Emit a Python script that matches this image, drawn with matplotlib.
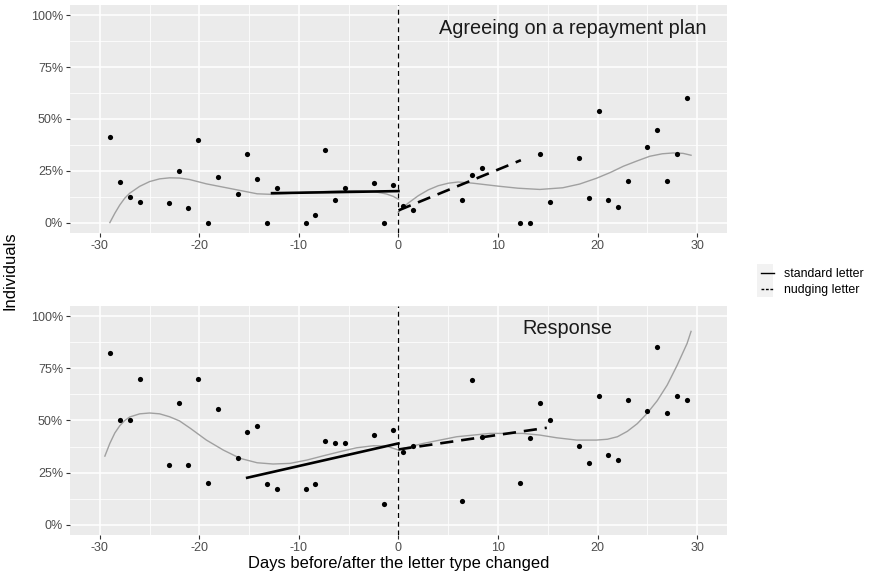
#!/usr/bin/env python3
"""
Regression discontinuity plot: share of individuals before/after the letter type changed.
Two panels (agreeing on a repayment plan / response), ggplot2-like grey theme.
"""

import matplotlib
matplotlib.use("Agg")
import matplotlib.pyplot as plt
from matplotlib.lines import Line2D
from matplotlib.patches import Rectangle
from matplotlib.ticker import PercentFormatter, MultipleLocator

plt.rcParams['font.family'] = ['Liberation Sans', 'DejaVu Sans']
plt.rcParams['axes.unicode_minus'] = False  # ggplot prints "-30", not "−30"

# ---- data: days relative to the change (same days in both panels) ----
days = [-29, -28, -27, -26, -23.05, -22.05, -21.1, -20.1, -19.1, -18.1,
        -16.15, -15.2, -14.2, -13.2, -12.25, -9.3, -8.35, -7.35, -6.35, -5.35,
        -2.45, -1.5, -0.5, 0.45, 1.45, 6.35, 7.35, 8.35, 12.25, 13.25,
        14.2, 15.2, 18.15, 19.1, 20.1, 21.1, 22.05, 23.05, 25.0, 26.0,
        27.0, 27.95, 28.95]

# agreeing on a repayment plan (share)
agree = [0.411, 0.198, 0.123, 0.099, 0.094, 0.248, 0.070, 0.398, 0.0, 0.221,
         0.136, 0.333, 0.210, 0.0, 0.166, 0.0, 0.038, 0.349, 0.110, 0.166,
         0.189, 0.0, 0.181, 0.082, 0.061, 0.110, 0.230, 0.263, 0.0, 0.0,
         0.333, 0.099, 0.312, 0.117, 0.537, 0.110, 0.077, 0.200, 0.364, 0.449,
         0.200, 0.333, 0.599]

# response (share)
response = [0.823, 0.502, 0.502, 0.701, 0.287, 0.584, 0.287, 0.701, 0.201, 0.557,
            0.318, 0.446, 0.474, 0.193, 0.169, 0.169, 0.193, 0.401, 0.390, 0.390,
            0.429, 0.101, 0.454, 0.348, 0.377, 0.112, 0.693, 0.422, 0.201, 0.417,
            0.584, 0.502, 0.377, 0.295, 0.616, 0.334, 0.308, 0.600, 0.547, 0.851,
            0.535, 0.620, 0.600]

# loess curves (grey), left and right of the cut-off
agree_smooth_left_x = [-29, -28.5, -28, -27.5, -27, -26, -25, -24, -23, -22,
                       -21, -19.3, -17.6, -15.9, -14.2, -12.6, -10.9, -9.2, -7.5, -5.9,
                       -4.2, -2.5, -1.2, -0.5, 0]
agree_smooth_left_y = [0.0, 0.045, 0.085, 0.118, 0.142, 0.175, 0.198, 0.211, 0.216, 0.215,
                       0.208, 0.187, 0.171, 0.155, 0.139, 0.136, 0.141, 0.147, 0.150, 0.154,
                       0.154, 0.150, 0.138, 0.126, 0.112]
agree_smooth_right_x = [0, 0.5, 1, 2, 3, 4, 5, 6, 7.5, 10,
                        12, 14.2, 16.5, 18.2, 19.9, 21.3, 22.6, 24, 25.25, 26.5,
                        27.6, 28.6, 29.4]
agree_smooth_right_y = [0.050, 0.075, 0.095, 0.130, 0.158, 0.178, 0.190, 0.196, 0.190, 0.176,
                        0.166, 0.160, 0.168, 0.186, 0.214, 0.242, 0.272, 0.298, 0.320, 0.332,
                        0.336, 0.334, 0.325]

resp_smooth_left_x = [-29.5, -29, -28.5, -28, -27.5, -27, -26, -25, -24, -23,
                      -22, -20.9, -19.3, -17.6, -15.9, -14.2, -12.6, -10.9, -9.2, -7.5,
                      -5.9, -4.2, -2.5, -1.2, 0]
resp_smooth_left_y = [0.329, 0.390, 0.440, 0.475, 0.500, 0.517, 0.532, 0.536, 0.532, 0.518,
                      0.498, 0.462, 0.406, 0.358, 0.318, 0.297, 0.291, 0.294, 0.310, 0.331,
                      0.350, 0.369, 0.379, 0.377, 0.358]
resp_smooth_right_x = [0, 2.5, 5.85, 9.2, 12.5, 14.2, 15.9, 17.9, 19.9, 21,
                       22, 23, 24, 25, 26, 27, 28, 29, 29.4]
resp_smooth_right_y = [0.360, 0.390, 0.422, 0.438, 0.438, 0.430, 0.417, 0.406, 0.406, 0.410,
                       0.422, 0.448, 0.485, 0.535, 0.595, 0.670, 0.765, 0.870, 0.928]

# linear fits (black): standard letter (solid) / nudging letter (dashed)
agree_std_x = [-12.7, 0]
agree_std_y = [0.142, 0.152]
agree_nudge_x = [0, 12.3]
agree_nudge_y = [0.059, 0.301]

resp_std_x = [-15.2, 0]
resp_std_y = [0.225, 0.390]
resp_nudge_x = [0, 14.9]
resp_nudge_y = [0.361, 0.465]

panel_titles = ["Agreeing on a repayment plan", "Response"]
legend_labels = ["standard letter", "nudging letter"]

PANEL_BG = '#EBEBEB'
TICK_COL = '#4D4D4D'


def style_axes(ax):
    """ggplot2 theme_gray look"""
    ax.set_facecolor(PANEL_BG)
    for s in ax.spines.values():
        s.set_visible(False)
    ax.set_xlim(-33, 33)
    ax.set_ylim(-0.05, 1.05)
    ax.xaxis.set_major_locator(MultipleLocator(10))
    ax.xaxis.set_minor_locator(MultipleLocator(5))
    ax.yaxis.set_major_locator(MultipleLocator(0.25))
    ax.yaxis.set_minor_locator(MultipleLocator(0.125))
    ax.yaxis.set_major_formatter(PercentFormatter(1.0, decimals=0))
    ax.grid(True, which='major', color='white', linewidth=1.1)
    ax.grid(True, which='minor', color='white', linewidth=0.55)
    ax.set_axisbelow(True)
    ax.tick_params(which='major', length=3, width=0.8, color='#333333',
                   labelsize=9, labelcolor=TICK_COL, pad=2)
    ax.tick_params(which='minor', length=0)


def draw_panel(ax, y, sl_x, sl_y, sr_x, sr_y, std_x, std_y, nd_x, nd_y, title, tx, ty):
    style_axes(ax)
    ax.axvline(0, color='black', linewidth=0.9, linestyle=(0, (4, 3)), zorder=2)
    ax.plot(sl_x, sl_y, color='#A0A0A0', linewidth=1.0, zorder=3)
    ax.plot(sr_x, sr_y, color='#A0A0A0', linewidth=1.0, zorder=3)
    ax.plot(std_x, std_y, color='black', linewidth=1.9, zorder=4)
    ax.plot(nd_x, nd_y, color='black', linewidth=1.9, linestyle=(0, (5, 3)), zorder=4)
    ax.scatter(days, y, s=14, color='black', zorder=5, linewidths=0)
    ax.text(tx, ty, title, fontsize=14.3, color='#1a1a1a', ha='center', va='center')


fig = plt.figure(figsize=(8.7, 5.73), dpi=100)
ax_top = fig.add_axes([0.0805, 0.5934, 0.755, 0.398])
ax_bot = fig.add_axes([0.0805, 0.0663, 0.755, 0.3997])

draw_panel(ax_top, agree, agree_smooth_left_x, agree_smooth_left_y,
           agree_smooth_right_x, agree_smooth_right_y,
           agree_std_x, agree_std_y, agree_nudge_x, agree_nudge_y,
           panel_titles[0], 17.5, 0.937)
draw_panel(ax_bot, response, resp_smooth_left_x, resp_smooth_left_y,
           resp_smooth_right_x, resp_smooth_right_y,
           resp_std_x, resp_std_y, resp_nudge_x, resp_nudge_y,
           panel_titles[1], 17.0, 0.94)

# axis titles
fig.text(0.4585, 0.003, "Days before/after the letter type changed",
         fontsize=11.9, ha='center', va='bottom', color='black')
fig.text(0.003, 0.527, "Individuals", fontsize=11.9, rotation=90,
         ha='left', va='center', color='black')

# legend with grey key background
fig.patches.append(Rectangle((757 / 870, 1 - 297 / 573), 16 / 870, 33 / 573,
                             transform=fig.transFigure, facecolor='#F2F2F2',
                             edgecolor='none', zorder=0))
handles = [Line2D([], [], color='black', linewidth=1.0),
           Line2D([], [], color='black', linewidth=1.0, linestyle=(0, (2, 1.2)))]
fig.legend(handles, legend_labels, loc='center left',
           bbox_to_anchor=(752 / 870, 1 - 282 / 573), frameon=False,
           fontsize=8.9, handlelength=1.1, handletextpad=0.8, labelspacing=0.3,
           borderpad=0.2)

fig.savefig("out.png", dpi=100)
